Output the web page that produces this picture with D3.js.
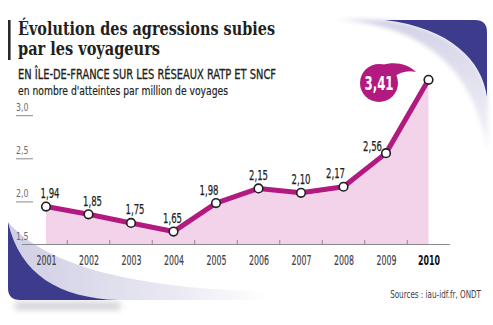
<!DOCTYPE html>
<html>
<head>
<meta charset="utf-8">
<script src="https://cdn.jsdelivr.net/npm/d3@7/dist/d3.min.js"></script>
<style>
  html, body { margin: 0; padding: 0; background: #fff; }
  svg { display: block; }
  .narrow { font-family: "Liberation Sans Narrow", "DejaVu Sans Condensed", "Roboto", sans-serif; font-stretch: condensed; }
</style>
</head>
<body>
<svg id="chart" width="493" height="325"></svg>
<script>
// Agressions per million journeys, Île-de-France (RATP + SNCF networks)
const years = [2001, 2002, 2003, 2004, 2005, 2006, 2007, 2008, 2009, 2010];
const values = [1.94, 1.85, 1.75, 1.65, 1.98, 2.15, 2.10, 2.17, 2.56, 3.41];
const yTicks = [1.5, 2.0, 2.5, 3.0];
const title = ["Évolution des agressions subies", "par les voyageurs"];
const subtitle = "EN ÎLE-DE-FRANCE SUR LES RÉSEAUX RATP ET SNCF";
const unitLine = "en nombre d'atteintes par million de voyages";
const source = "Sources : iau-idf.fr, ONDT";

// small horizontal nudges so value labels clear the line
const labelNudge = [4, 4, 4, -1, -7, 0, 0, -8, 0, 0];

const fr = v => d3.format(".2f")(v).replace(".", ",");
const frTick = v => d3.format(".1f")(v).replace(".", ",");

const MAGENTA = "#b31a80";
const FILL = "#f3d3ea";
const BLUE = "#3d3b8c";
const INK = "#231f20";

const svg = d3.select("#chart");
const defs = svg.append("defs");

defs.append("filter").attr("id", "soft")
  .attr("x", "-20%").attr("y", "-20%").attr("width", "140%").attr("height", "140%")
  .append("feGaussianBlur").attr("stdDeviation", 2);

defs.append("filter").attr("id", "shadow")
  .attr("x", "-20%").attr("y", "-20%").attr("width", "140%").attr("height", "160%")
  .append("feGaussianBlur").attr("stdDeviation", 3);

const gBand = defs.append("linearGradient").attr("id", "bandL")
  .attr("x1", 0).attr("x2", 1).attr("y1", 0).attr("y2", 0);
gBand.append("stop").attr("offset", "0%").attr("stop-color", "#cfcee4");
gBand.append("stop").attr("offset", "60%").attr("stop-color", "#e8e7f2");
gBand.append("stop").attr("offset", "100%").attr("stop-color", "#ffffff");

const gBandR = defs.append("linearGradient").attr("id", "bandR")
  .attr("x1", 0).attr("x2", 0).attr("y1", 0).attr("y2", 1);
gBandR.append("stop").attr("offset", "0%").attr("stop-color", "#d3d2e7");
gBandR.append("stop").attr("offset", "100%").attr("stop-color", "#f4f4f9");

// ---- decorative corner swooshes ----
// top right
svg.append("path")
  .attr("d", "M335,19 C420,26 472,62 488,152 L488,97 C482,60 450,28 385,20 Z")
  .attr("fill", "url(#bandR)").attr("filter", "url(#soft)");
svg.append("path")
  .attr("d", "M385,20 L475,20 Q487,20 487,32 L487,97 C482,60 450,28 385,20 Z")
  .attr("fill", BLUE);

// bottom left
svg.append("path")
  .attr("d", "M14,302 L120,302 L120,310 L16,310 Z")
  .attr("fill", "#9a9aa8").attr("opacity", 0.45).attr("filter", "url(#shadow)");
svg.append("path")
  .attr("d", "M8,222 C45,265 130,288 270,292 L270,300 L118,300 C60,298 20,275 8,222 Z")
  .attr("fill", "url(#bandL)");
svg.append("path")
  .attr("d", "M8,222 L8,288 Q8,300 20,300 L118,300 C60,298 20,275 8,222 Z")
  .attr("fill", BLUE);

// ---- header ----
svg.append("rect").attr("x", 8).attr("y", 20).attr("width", 2.6).attr("height", 40).attr("fill", "#2b2b2b");

const titleFont = "'DejaVu Serif', 'Liberation Serif', serif";
svg.append("text").attr("x", 18).attr("y", 35)
  .attr("font-family", titleFont).attr("font-weight", "bold").attr("font-size", 19)
  .attr("fill", INK).attr("textLength", 257).attr("lengthAdjust", "spacingAndGlyphs")
  .text(title[0]);
svg.append("text").attr("x", 18).attr("y", 55)
  .attr("font-family", titleFont).attr("font-weight", "bold").attr("font-size", 19)
  .attr("fill", INK).attr("textLength", 142).attr("lengthAdjust", "spacingAndGlyphs")
  .text(title[1]);

svg.append("text").attr("class", "narrow").attr("x", 18).attr("y", 79)
  .attr("font-size", 14).attr("fill", INK)
  .attr("stroke", INK).attr("stroke-width", 0.3)
  .attr("textLength", 258).attr("lengthAdjust", "spacingAndGlyphs")
  .text(subtitle);
svg.append("text").attr("class", "narrow").attr("x", 18).attr("y", 94.5)
  .attr("font-size", 13).attr("fill", INK)
  .attr("stroke", INK).attr("stroke-width", 0.2)
  .attr("textLength", 210).attr("lengthAdjust", "spacingAndGlyphs")
  .text(unitLine);

// ---- scales ----
const x = d3.scaleLinear().domain([2001, 2010]).range([46, 428.5]);
const y = d3.scaleLinear().domain([1.5, 3.0]).range([244.5, 115.2]);

// area under the curve
const area = d3.area().x((d, i) => x(years[i])).y0(y(1.5)).y1(d => y(d));
svg.append("path").datum(values).attr("d", area).attr("fill", FILL);

// y axis: labels sitting on short rules
const yAxis = d3.axisLeft(y).tickValues(yTicks).tickSize(17).tickFormat(frTick);
const gy = svg.append("g").attr("transform", "translate(33,0)").call(yAxis);
gy.select(".domain").remove();
gy.selectAll(".tick line").attr("stroke", "#8a8a8a").attr("stroke-width", 1)
  .attr("opacity", d => d === 1.5 ? 0 : 1);
gy.selectAll(".tick text")
  .attr("class", "narrow")
  .attr("x", -17).attr("dy", -5).attr("text-anchor", "start")
  .attr("font-size", 11).attr("fill", "#6d6e70")
  .attr("textLength", 12.5).attr("lengthAdjust", "spacingAndGlyphs");

// baseline and half-year ticks
svg.append("line").attr("x1", 22).attr("x2", 450)
  .attr("y1", y(1.5)).attr("y2", y(1.5)).attr("stroke", "#8a8a8a").attr("stroke-width", 1);
svg.append("g").selectAll("line").data(years.slice(0, -1)).join("line")
  .attr("x1", d => x(d + 0.5)).attr("x2", d => x(d + 0.5))
  .attr("y1", y(1.5)).attr("y2", y(1.5) - 4.5)
  .attr("stroke", "#8a8a8a").attr("stroke-width", 1);

// x axis labels
const xAxis = d3.axisBottom(x).tickValues(years).tickSize(0).tickFormat(d3.format("d"));
const gx = svg.append("g").attr("transform", `translate(0,${y(1.5)})`).call(xAxis);
gx.select(".domain").remove();
gx.selectAll(".tick text")
  .attr("class", "narrow")
  .attr("x", d => d === 2010 ? -11 : -10).attr("y", 20.5).attr("dy", 0)
  .attr("text-anchor", "start")
  .attr("font-size", 13.5)
  .attr("fill", d => d === 2010 ? "#111" : "#414042")
  .attr("stroke", d => d === 2010 ? "none" : "#414042").attr("stroke-width", 0.15)
  .attr("font-weight", d => d === 2010 ? "bold" : "normal")
  .attr("textLength", d => d === 2010 ? 22 : 20).attr("lengthAdjust", "spacingAndGlyphs");

// line
const line = d3.line().x((d, i) => x(years[i])).y(d => y(d));
svg.append("path").datum(values).attr("d", line)
  .attr("fill", "none").attr("stroke", MAGENTA).attr("stroke-width", 5)
  .attr("stroke-linejoin", "round").attr("stroke-linecap", "round");

// markers
svg.append("g").selectAll("circle").data(values).join("circle")
  .attr("cx", (d, i) => x(years[i])).attr("cy", d => y(d)).attr("r", 4.3)
  .attr("fill", "#fff").attr("stroke", "#1f1f1f").attr("stroke-width", 1.6);

// value labels (last one goes into the bubble)
const lastIdx = values.length - 1;
svg.append("g").selectAll("text").data(values.slice(0, lastIdx)).join("text")
  .attr("class", "narrow")
  .attr("x", (d, i) => i === 8 ? x(years[i]) - 23 : x(years[i]) + labelNudge[i] - 9.5)
  .attr("y", (d, i) => i === 8 ? y(d) - 2 : y(d) - 8.5)
  .attr("text-anchor", "start")
  .attr("font-size", 14.5).attr("fill", INK)
  .attr("stroke", INK).attr("stroke-width", 0.25)
  .attr("textLength", 19).attr("lengthAdjust", "spacingAndGlyphs")
  .text(d => fr(d));

// highlight bubble for the latest value
const bx = 379, by = 83, br = 19;
svg.append("path")
  .attr("d", `M${bx + 3},${by - br + 1} C395,61 408,64 416,72 C408,70 400,72 ${bx + 15},${by - 6} Z`)
  .attr("fill", MAGENTA);
svg.append("circle").attr("cx", bx).attr("cy", by).attr("r", br).attr("fill", MAGENTA);
svg.append("text").attr("class", "narrow")
  .attr("x", bx - 14.5).attr("y", by + 7)
  .attr("font-size", 19).attr("font-weight", "bold").attr("fill", "#fff")
  .attr("textLength", 29).attr("lengthAdjust", "spacingAndGlyphs")
  .text(fr(values[lastIdx]));

// source, squeezed horizontally to the condensed width of the credit line
const srcG = svg.append("g");
const srcT = srcG.append("text").attr("class", "narrow")
  .attr("x", 0).attr("y", 0).attr("text-anchor", "end")
  .attr("font-size", 10).attr("fill", "#414042")
  .text(source);
const srcW = srcT.node().getComputedTextLength();
srcG.attr("transform", `translate(481,298) scale(${91 / srcW},1)`);
</script>
</body>
</html>
